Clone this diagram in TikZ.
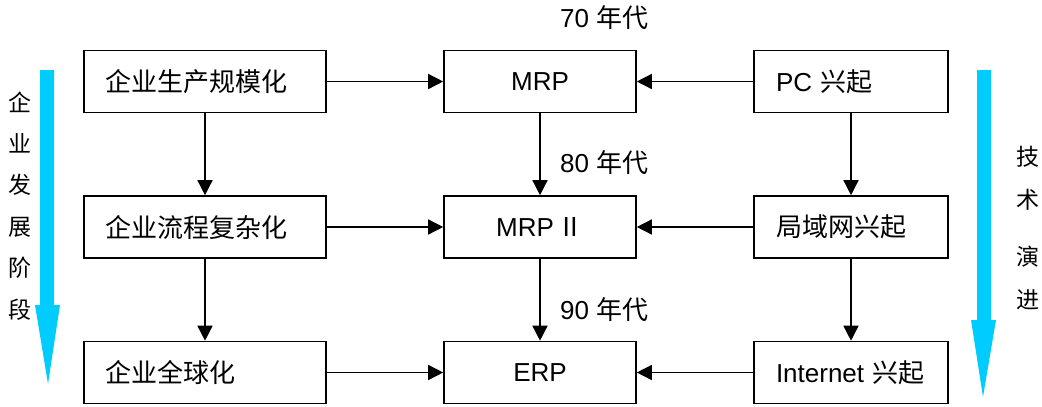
\documentclass[tikz,border=0pt]{standalone}
\usepackage{fontspec}
\setmainfont{Liberation Sans}
\newfontfamily\cjk{Noto Sans CJK SC}
\usetikzlibrary{arrows.meta}
\definecolor{flow}{RGB}{0,204,255}
\begin{document}
\begin{tikzpicture}[x=1pt,y=-1pt,
  box/.style={draw, line width=1.6pt, minimum height=62pt, inner xsep=0pt, inner ysep=0pt,
    font=\fontsize{26}{28}\selectfont},
  lbox/.style={box, text width=200pt, align=left, minimum width=242pt, inner xsep=21pt},
  mbox/.style={box, minimum width=192pt, align=center},
  rbox/.style={box, text width=150pt, align=left, minimum width=194pt, inner xsep=22pt},
  link/.style={line width=1.5pt, -{Triangle[length=15pt,width=15pt]}},
  lbl/.style={font=\fontsize{26}{28}\selectfont, anchor=west, inner sep=0pt},
  vtxt/.style={font=\cjk\fontsize{23}{25}\selectfont, inner sep=0pt}]
\useasboundingbox (0,0) rectangle (1042,407);
% left column
\node[lbox] (l1) at (205,81.5) {\cjk 企业生产规模化};
\node[lbox] (l2) at (205,227) {\cjk 企业流程复杂化};
\node[lbox] (l3) at (205,372.5) {\cjk 企业全球化};
% middle column
\node[mbox] (m1) at (540,81.5) {MRP};
\node[mbox] (m2) at (540,227) {MRP\hspace{4pt}{\cjk Ⅱ}};
\node[mbox] (m3) at (540,372.5) {ERP};
% right column
\node[rbox] (r1) at (851,81.5) {PC {\cjk 兴起}};
\node[rbox] (r2) at (851,227) {\cjk 局域网兴起};
\node[rbox] (r3) at (851,372.5) {Internet {\cjk 兴起}};
% connectors
\draw[link] (l1) -- (m1);
\draw[link] (l2) -- (m2);
\draw[link] (l3) -- (m3);
\draw[link] (r1) -- (m1);
\draw[link] (r2) -- (m2);
\draw[link] (r3) -- (m3);
\draw[link] (l1) -- (l2);
\draw[link] (l2) -- (l3);
\draw[link] (m1) -- (m2);
\draw[link] (m2) -- (m3);
\draw[link] (r1) -- (r2);
\draw[link] (r2) -- (r3);
% decade labels
\node[lbl] (d1) at (560,18) {70 {\cjk 年代}};
\node[lbl] (d2) at (560,163) {80 {\cjk 年代}};
\node[lbl] (d3) at (560,310) {90 {\cjk 年代}};
% big arrows
\fill[flow] (40,70) -- (54,70) -- (54,305) -- (60,305) -- (48,384) -- (35,305) -- (40,305) -- cycle;
\fill[flow] (977,70) -- (991,70) -- (991,320) -- (996,320) -- (983,397) -- (971,320) -- (977,320) -- cycle;
% vertical texts
\node[vtxt] (v1) at (20,102) {企};
\node[vtxt] (v2) at (20,143) {业};
\node[vtxt] (v3) at (20,185) {发};
\node[vtxt] (v4) at (20,227) {展};
\node[vtxt] (v5) at (20,268) {阶};
\node[vtxt] (v6) at (20,310) {段};
\node[vtxt] (w1) at (1028,157) {技};
\node[vtxt] (w2) at (1028,200) {术};
\node[vtxt] (w3) at (1028,257) {演};
\node[vtxt] (w4) at (1028,300) {进};
\end{tikzpicture}
\end{document}
